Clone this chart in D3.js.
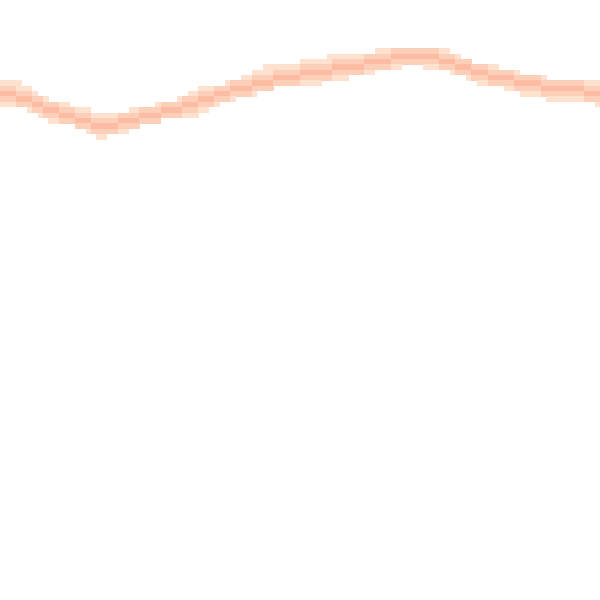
<!DOCTYPE html>
<html>
<head>
<meta charset="utf-8">
<script src="https://cdn.jsdelivr.net/npm/d3@7"></script>
<style>
  html, body { margin: 0; padding: 0; background: #fff; }
  svg { display: block; }
</style>
</head>
<body>
<svg id="chart" width="600" height="600"></svg>
<script>
// Sample positions (time steps)
const steps = d3.range(25);
// Centre of the density band (value units)
const centerValues = [84.5, 83.5, 81.7, 80.5, 79.0, 79.7, 80.8, 81.8, 83.2, 84.7, 85.7, 86.8, 87.5,
                      88.3, 88.8, 89.7, 90.5, 90.7, 89.7, 88.0, 87.0, 86.2, 85.3, 85.2, 84.3];
// Upper edge of the band
const upperValues = [86.5, 85.5, 82.8, 82.0, 81.0, 81.2, 82.0, 82.8, 85.0, 85.7, 87.3, 89.2, 89.2,
                     90.2, 90.2, 91.0, 91.8, 91.8, 91.0, 89.2, 88.3, 87.3, 86.5, 86.5, 85.7];
// Lower edge of the band
const lowerValues = [83.0, 82.2, 80.3, 79.5, 77.5, 78.5, 80.2, 80.5, 81.2, 83.8, 84.2, 85.8, 85.8,
                     86.7, 87.5, 88.5, 89.3, 89.3, 88.5, 86.7, 85.8, 84.7, 83.8, 83.8, 82.8];
// Density levels and their colours
const levels = [1, 2, 3];
const levelColors = ["#fee2cf", "#fdcfb8", "#fcbba3"];

const W = 600, H = 600;
const svg = d3.select("#chart");
const x = d3.scaleLinear().domain([0, steps.length - 1]).range([0, W]);
const y = d3.scaleLinear().domain([0, 100]).range([H, 0]);
const color = d3.scaleOrdinal().domain(levels).range(levelColors);

const nCols = 112;
const cell = W / nCols;

function interp(arr, t) {
  const i = Math.max(0, Math.min(arr.length - 2, Math.floor(t)));
  const f = t - i;
  return arr[i] * (1 - f) + arr[i + 1] * f;
}

const cells = [];
for (let c = 0; c < nCols; c++) {
  const cx = (c + 0.5) * cell;
  const t = x.invert(cx);
  const yTop = y(interp(upperValues, t));
  const yBot = y(interp(lowerValues, t));
  const yMid = y(interp(centerValues, t));
  const r0 = Math.floor(yTop / cell), r1 = Math.floor(yBot / cell);
  const rMid = Math.floor(yMid / cell);
  for (let r = r0; r <= r1; r++) {
    const d = Math.abs(r - rMid);
    const lvl = d === 0 ? 3 : (d === 1 ? 2 : 1);
    cells.push({c, r, lvl});
  }
}

svg.append("g")
  .selectAll("rect")
  .data(cells)
  .join("rect")
  .attr("x", d => d.c * cell)
  .attr("y", d => d.r * cell)
  .attr("width", cell + 0.3)
  .attr("height", cell + 0.3)
  .attr("fill", d => color(d.lvl))
  .attr("shape-rendering", "crispEdges");
</script>
</body>
</html>
